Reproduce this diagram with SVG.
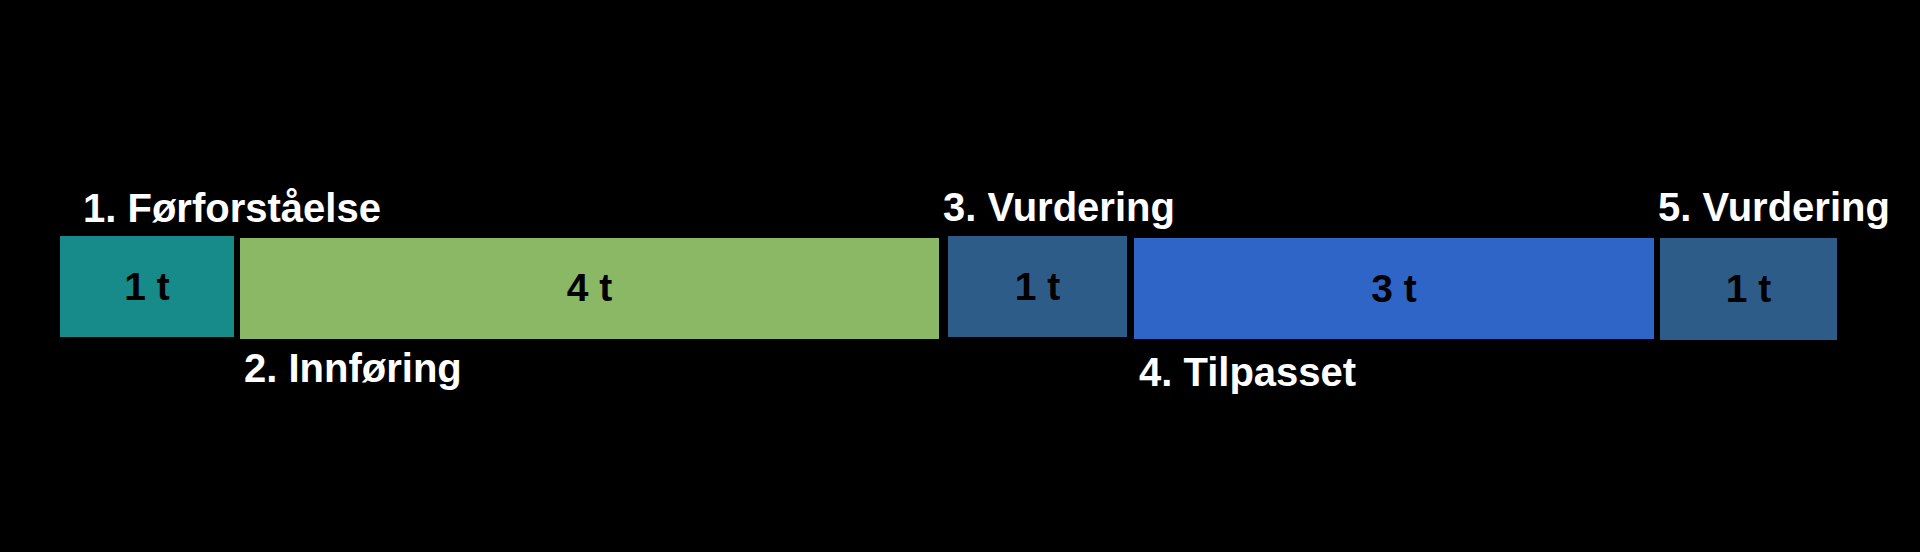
<svg xmlns="http://www.w3.org/2000/svg" width="1920" height="552" viewBox="0 0 1920 552">
<style>
.t{font-family:"Liberation Sans",Arial,sans-serif;font-weight:bold;font-size:40px;fill:#ffffff}
.v{font-family:"Liberation Sans",Arial,sans-serif;font-weight:bold;font-size:39px;fill:#000000;text-anchor:middle}
</style>
<rect x="0" y="0" width="1920" height="552" fill="#000000"/>
<g id="connectors"></g>
<g id="node1">
<rect x="60" y="236" width="174" height="101" fill="#178A8A"/>
<text class="v" x="147" y="300">1 t</text>
<text class="t" x="83" y="222">1. Førforståelse</text>
</g>
<g id="node2">
<rect x="240" y="238" width="699" height="101" fill="#8AB864"/>
<text class="v" x="589.5" y="301">4 t</text>
<text class="t" x="244" y="382">2. Innføring</text>
</g>
<g id="node3">
<rect x="948" y="236" width="179" height="101" fill="#2E5C88"/>
<text class="v" x="1037.5" y="300">1 t</text>
<text class="t" x="943" y="221">3. Vurdering</text>
</g>
<g id="node4">
<rect x="1134" y="238" width="520" height="101" fill="#3065C8"/>
<text class="v" x="1394" y="302">3 t</text>
<text class="t" x="1139" y="386">4. Tilpasset</text>
</g>
<g id="node5">
<rect x="1660" y="238" width="177" height="102" fill="#2E5C88"/>
<text class="v" x="1748.5" y="302">1 t</text>
<text class="t" x="1658" y="221">5. Vurdering</text>
</g>
</svg>
